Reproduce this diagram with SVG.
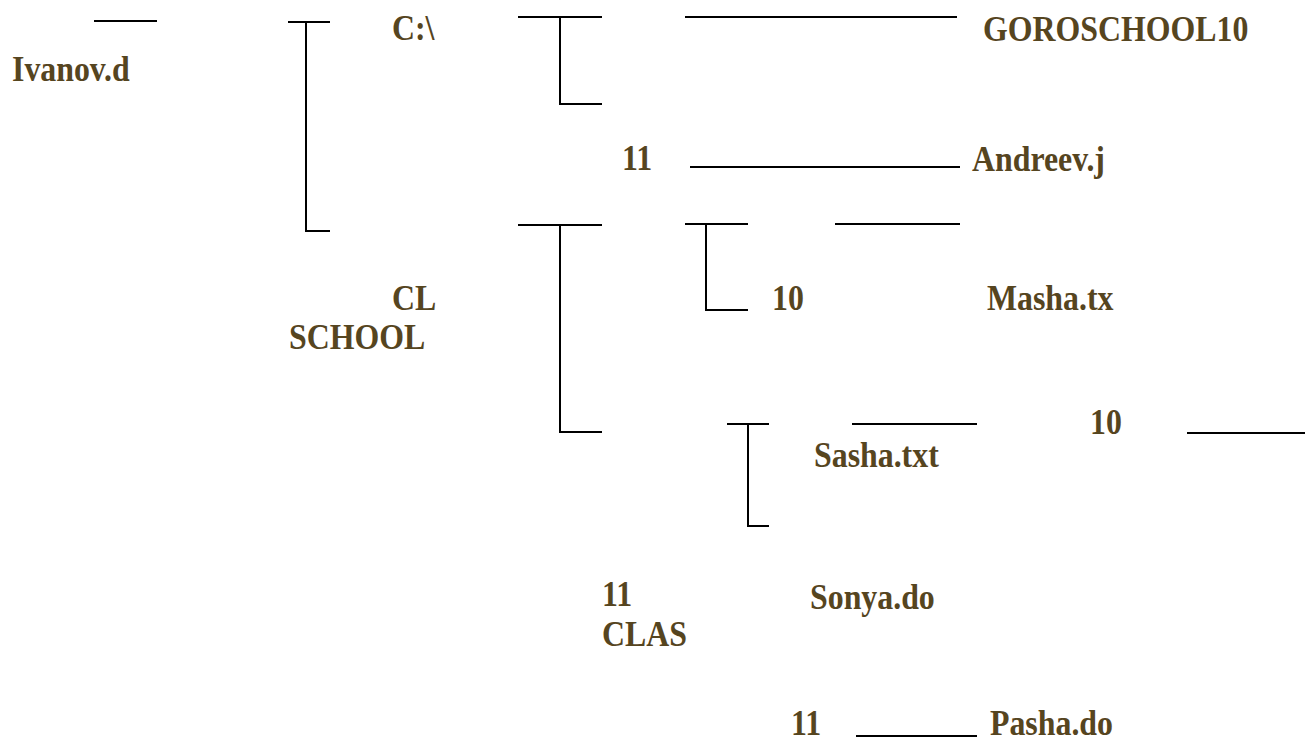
<svg xmlns="http://www.w3.org/2000/svg" width="1305" height="738" viewBox="0 0 1305 738">
<style>
text{font-family:"Liberation Serif","Times New Roman",serif;font-weight:bold;font-size:35px;fill:#56451f}
.c{stroke:#000;stroke-width:2;fill:none}
</style>
<rect width="1305" height="738" fill="#fff"/>
<g id="connectors">
<path class="c" d="M94 21H157"/>
<path class="c" d="M288 22H330M306 22V231H330"/>
<path class="c" d="M518 17H602M560 17V104H602"/>
<path class="c" d="M685 17H957"/>
<path class="c" d="M690 167H960"/>
<path class="c" d="M518 225H602M560 225V432H602"/>
<path class="c" d="M685 224H748M706 224V310H748"/>
<path class="c" d="M835 224H960"/>
<path class="c" d="M727 424H769M748 424V526H769"/>
<path class="c" d="M852 424H977"/>
<path class="c" d="M1187 433H1305"/>
<path class="c" d="M856 736H977"/>
</g>
<g id="n-ivanov"><text transform="translate(12 81) scale(0.91 1)">Ivanov.d</text></g>
<g id="n-c"><text transform="translate(392 40) scale(0.91 1)">C:\</text></g>
<g id="n-goroschool10"><text transform="translate(983 41) scale(0.91 1)">GOROSCHOOL10</text></g>
<g id="n-11a"><text transform="translate(622 170) scale(0.91 1)">11</text></g>
<g id="n-andreev"><text transform="translate(972 171) scale(0.91 1)">Andreev.j</text></g>
<g id="n-clschool"><text transform="translate(392 310) scale(0.91 1)">CL</text><text transform="translate(289 349) scale(0.91 1)">SCHOOL</text></g>
<g id="n-10a"><text transform="translate(772 310) scale(0.91 1)">10</text></g>
<g id="n-masha"><text transform="translate(987 310) scale(0.91 1)">Masha.tx</text></g>
<g id="n-10b"><text transform="translate(1090 434) scale(0.91 1)">10</text></g>
<g id="n-sasha"><text transform="translate(814 467) scale(0.91 1)">Sasha.txt</text></g>
<g id="n-11clas"><text transform="translate(602 606) scale(0.91 1)">11</text><text transform="translate(602 646) scale(0.91 1)">CLAS</text></g>
<g id="n-sonya"><text transform="translate(810 609) scale(0.91 1)">Sonya.do</text></g>
<g id="n-11b"><text transform="translate(791 735) scale(0.91 1)">11</text></g>
<g id="n-pasha"><text transform="translate(990 735) scale(0.91 1)">Pasha.do</text></g>
</svg>
